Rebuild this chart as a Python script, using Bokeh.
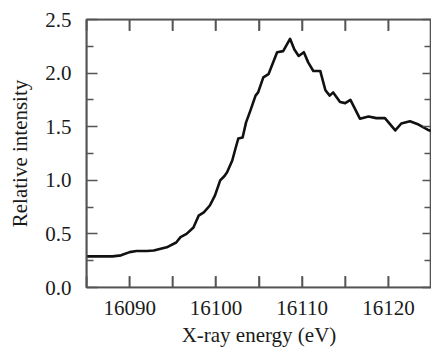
import math
from bokeh.plotting import figure
from bokeh.models import LinearAxis, FixedTicker, Range1d, Span
from bokeh.embed import file_html
from bokeh.resources import INLINE

# Data
energy = [16085.0, 16086.5, 16088.0, 16089.0, 16090.0, 16090.8, 16092.0, 16092.8,
          16094.3, 16095.4, 16095.9, 16096.6, 16097.4, 16098.0, 16098.6, 16099.3,
          16099.9, 16100.5, 16101.0, 16101.3, 16101.9, 16102.25, 16102.6, 16103.1,
          16103.5, 16104.0, 16104.6, 16104.9, 16105.5, 16106.1, 16107.1, 16107.8,
          16108.6, 16109.1, 16109.6, 16110.2, 16110.7, 16111.3, 16112.1, 16112.7,
          16113.2, 16113.6, 16114.4, 16115.0, 16115.6, 16116.7, 16117.7, 16118.6,
          16119.6, 16120.8, 16121.5, 16122.5, 16123.5, 16124.6, 16125.0]
intensity = [0.29, 0.29, 0.29, 0.30, 0.33, 0.34, 0.34, 0.345,
             0.375, 0.42, 0.47, 0.50, 0.56, 0.67, 0.70, 0.765,
             0.86, 1.00, 1.04, 1.075, 1.185, 1.29, 1.39, 1.40,
             1.54, 1.65, 1.79, 1.82, 1.96, 1.99, 2.195, 2.205,
             2.32, 2.22, 2.16, 2.195, 2.10, 2.02, 2.02, 1.84,
             1.79, 1.82, 1.73, 1.72, 1.75, 1.575, 1.595, 1.58,
             1.58, 1.465, 1.53, 1.55, 1.52, 1.47, 1.46]

x_limits = [16085, 16125]
y_limits = [0.0, 2.5]
x_major = [16090, 16100, 16110, 16120]
x_minor = [16085, 16095, 16105, 16115, 16125]
y_major = [0.0, 0.5, 1.0, 1.5, 2.0, 2.5]
y_minor = [0.25, 0.75, 1.25, 1.75, 2.25]
x_labels = {16090: "16090", 16100: "16100", 16110: "16110", 16120: "16120"}
y_labels = {0.0: "0.0", 0.5: "0.5", 1.0: "1.0", 1.5: "1.5", 2.0: "2.0", 2.5: "2.5"}

FONT = "Liberation Serif"
AX_COLOR = "#555555"
TXT = "#1a1a1a"
LW = 1.6

p = figure(width=431, height=351, output_backend="svg", toolbar_location=None,
           x_range=Range1d(*x_limits), y_range=Range1d(*y_limits),
           min_border_left=86, min_border_right=0, min_border_top=19, min_border_bottom=64,
           x_axis_label="X-ray energy (eV)", y_axis_label="Relative intensity")
p.grid.visible = False
p.outline_line_color = AX_COLOR
p.outline_line_width = LW


def style(ax, ticker, major_in, minor_in, labels=True):
    ax.ticker = ticker
    ax.axis_line_color = AX_COLOR
    ax.axis_line_width = LW
    ax.major_tick_line_color = AX_COLOR
    ax.minor_tick_line_color = AX_COLOR
    ax.major_tick_line_width = LW
    ax.minor_tick_line_width = LW
    ax.major_tick_in = major_in
    ax.major_tick_out = 0
    ax.minor_tick_in = minor_in
    ax.minor_tick_out = 0
    if labels:
        ax.major_label_text_font = FONT
        ax.major_label_text_font_size = "21px"
        ax.major_label_text_color = TXT
        ax.axis_label_text_font = FONT
        ax.axis_label_text_font_size = "21px"
        ax.axis_label_text_font_style = "normal"
        ax.axis_label_text_color = TXT
    else:
        ax.major_label_text_font_size = "1px"
        ax.major_label_text_color = None
        ax.major_label_standoff = 0
        ax.axis_label = None


xa = p.xaxis[0]
style(xa, FixedTicker(ticks=x_major, minor_ticks=x_minor), 11, 11)
xa.major_label_overrides = x_labels
xa.major_label_standoff = 13
xa.axis_label_standoff = 5

ya = p.yaxis[0]
style(ya, FixedTicker(ticks=y_major, minor_ticks=y_minor), 11, 7)
ya.major_label_overrides = y_labels
ya.major_label_standoff = 15
ya.axis_label_standoff = 10

top = LinearAxis()
style(top, FixedTicker(ticks=x_major, minor_ticks=x_minor), 11, 11, labels=False)
p.add_layout(top, "above")

right = LinearAxis()
style(right, FixedTicker(ticks=y_major, minor_ticks=y_minor), 9, 7, labels=False)
p.add_layout(right, "right")

# frame edges (reinforced) at the range limits
for loc in y_limits:
    p.add_layout(Span(location=loc, dimension="width", line_color=AX_COLOR, line_width=LW))
p.add_layout(Span(location=x_limits[0], dimension="height", line_color=AX_COLOR, line_width=LW))

# inward x ticks on bottom and top edges (vertical dashes clipped by the frame)
xt = x_major + x_minor
for yl in y_limits:
    p.scatter(x=xt, y=[yl] * len(xt), marker="dash", angle=math.pi / 2, size=23,
              line_color=AX_COLOR, line_width=LW, fill_color=None)

p.line(energy, intensity, line_color="#111111", line_width=2.6, line_join="round")

open("out.html", "w").write(file_html(p, INLINE))
